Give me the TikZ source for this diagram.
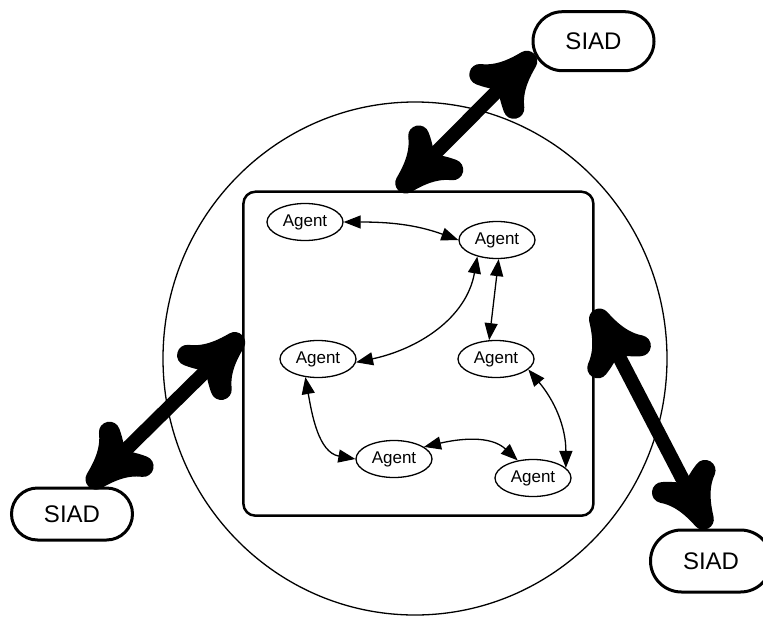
\documentclass[tikz,border=0pt]{standalone}
\usepackage{fontspec}
\setmainfont{Liberation Sans}
\usetikzlibrary{arrows.meta,shapes.geometric,shapes.misc}

% heavy arrow head: a concave dart stroked with a wide round pen
\pgfdeclarearrow{
  name=Flare,
  setup code={
    \pgfarrowssettipend{0pt}
    \pgfarrowssetlineend{-38pt}
    \pgfarrowssetbackend{-64pt}
    \pgfarrowssetvisualbackend{-38pt}
  },
  drawing code={
    \pgfsetdash{}{0pt}
    \pgfsetlinewidth{21pt}
    \pgfsetroundjoin
    \pgfsetroundcap
    \pgfpathmoveto{\pgfqpoint{-10.5pt}{0pt}}
    \pgfpathcurveto{\pgfqpoint{-26pt}{4pt}}{\pgfqpoint{-42pt}{10pt}}{\pgfqpoint{-53pt}{24pt}}
    \pgfpathcurveto{\pgfqpoint{-48pt}{13pt}}{\pgfqpoint{-42pt}{5pt}}{\pgfqpoint{-36pt}{0pt}}
    \pgfpathcurveto{\pgfqpoint{-42pt}{-5pt}}{\pgfqpoint{-48pt}{-13pt}}{\pgfqpoint{-53pt}{-24pt}}
    \pgfpathcurveto{\pgfqpoint{-42pt}{-10pt}}{\pgfqpoint{-26pt}{-4pt}}{\pgfqpoint{-10.5pt}{0pt}}
    \pgfpathclose
    \pgfusepathqfillstroke
  }
}

\begin{document}
\begin{tikzpicture}[x=1pt,y=1pt,
  agent/.style={draw, ellipse, line width=1.3pt, minimum width=76pt,
    minimum height=37pt, inner sep=0pt, font=\fontsize{17}{20}\selectfont},
  siad/.style={draw, rounded rectangle, line width=3pt, minimum width=121pt,
    inner sep=0pt, fill=white, font=\fontsize{24}{28}\selectfont},
  link/.style={line width=1.3pt,
    {Triangle[length=17pt,width=13pt]}-{Triangle[length=17pt,width=13pt]}},
  channel/.style={line width=14pt, Flare-Flare}]
\useasboundingbox (0,0) rectangle (763,-616);

% outer environment and the platform box
\draw[line width=1.3pt] (415,-358.5) ellipse [x radius=252, y radius=256.5];
\node[draw, rectangle, rounded corners=12pt, line width=2.5pt,
  minimum width=350pt, minimum height=324pt] (box) at (418.4,-353.7) {};

% agents
\node[agent] (a1) at (305,-222) {Agent};
\node[agent] (a2) at (497,-240) {Agent};
\node[agent] (a3) at (318,-359) {Agent};
\node[agent] (a4) at (496,-359) {Agent};
\node[agent] (a5) at (394,-459) {Agent};
\node[agent] (a6) at (533,-478) {Agent};

% agent interactions
\draw[link] (a1.east) to[out=0, in=160] (a2.west);
\draw[link] (a2.220) to[out=-100, in=12] (a3.-5);
\draw[link] (a2.-85) -- (a4.110);
\draw[link] (a4.-18) to[out=-50, in=90] (a6.17);
\draw[link] (a3.235) to[out=-80, in=170] (a5.west);
\draw[link] (a5.22) to[out=13, in=137] (a6.131);

% SIAD nodes
\node[siad, minimum height=59pt] (sa) at (593.5,-41.2) {SIAD};
\node[siad, minimum height=52pt] (sb) at (72,-514) {SIAD};
\node[siad, minimum height=62pt] (sc) at (711,-561) {SIAD};

% channels between SIADs and the platform
\draw[channel] (sa.192) -- (box.97.7);
\draw[channel] (sb.59) -- (box.174.8);
\draw[channel] (sc.95) -- (box.14.9);
\end{tikzpicture}
\end{document}
